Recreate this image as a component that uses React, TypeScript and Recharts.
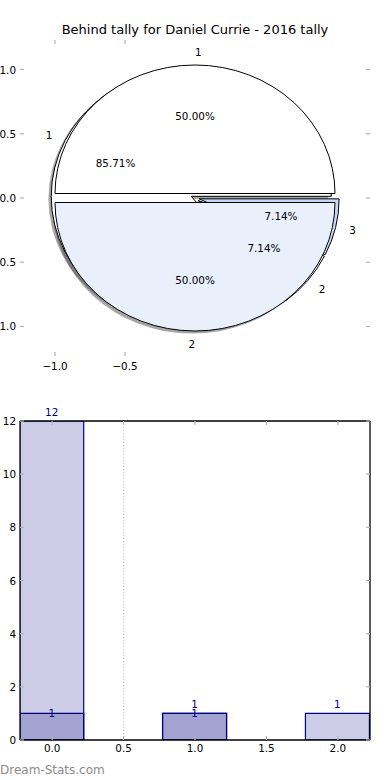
import React from 'react';
import {
  PieChart, Pie, Cell, ScatterChart, BarChart, Bar, XAxis, YAxis, LabelList, ReferenceLine,
} from 'recharts';

const FONT = '"DejaVu Sans", sans-serif';
const NAVY = '#000080';
const MARK = '#b4b4b4';
const RAD = Math.PI / 180;

// tally counts per category
const categories = [0, 1, 2];
const sliceNames = ['1', '2', '3'];
const behindCounts = [12, 1, 1];
const aheadCounts: (number | null)[] = [1, 1, null];

// axis ticks
const pieXTicks = [-1, -0.5];
const pieYTicks = [-1, -0.5, 0, 0.5, 1];
const barXTicks = [0, 0.5, 1, 1.5, 2];
const barYTicks = [0, 2, 4, 6, 8, 10, 12];

// pie styling
const outerColors = ['#ffffff', '#e9effb'];
const innerColors = ['#ffffff', '#ffffff', '#c6d9f6'];
const outerExplode = [0.035, 0.035];
const innerExplode = [0.03, 0.03, 0.03];
const SQUASH = 128.5 / 140; // axes are not equal aspect, so the pie is an ellipse
const SHADOW_DX = -2.8;
const SHADOW_DY = 2.6;

const outerData = aheadCounts
  .map((v, i) => ({ name: sliceNames[i], value: v }))
  .filter((d) => d.value != null);
const innerData = behindCounts.map((v, i) => ({ name: sliceNames[i], value: v }));
const barRows = categories.map((x, i) => ({ x, behind: behindCounts[i], ahead: aheadCounts[i] }));

function wedgePath(cx: number, cy: number, r: number, a0: number, a1: number) {
  const rx = r;
  const ry = r * SQUASH;
  const x0 = cx + rx * Math.cos(a0 * RAD);
  const y0 = cy - ry * Math.sin(a0 * RAD);
  const x1 = cx + rx * Math.cos(a1 * RAD);
  const y1 = cy - ry * Math.sin(a1 * RAD);
  const large = Math.abs(a1 - a0) > 180 ? 1 : 0;
  return `M${cx},${cy} L${x0},${y0} A${rx},${ry} 0 ${large} 0 ${x1},${y1} Z`;
}

const wedge = (explode: number[], shadow: boolean) => (props: any) => {
  const i = sliceNames.indexOf(String(props.name ?? props.payload?.name));
  const e = explode[i] ?? 0;
  const mid = (props.startAngle + props.endAngle) / 2;
  let cx = props.cx + e * props.outerRadius * Math.cos(mid * RAD);
  let cy = props.cy - e * props.outerRadius * SQUASH * Math.sin(mid * RAD);
  if (shadow) {
    cx += SHADOW_DX;
    cy += SHADOW_DY;
  }
  const d = wedgePath(cx, cy, props.outerRadius, props.startAngle, props.endAngle);
  if (shadow) return <path d={d} fill="#4d4d4d" fillOpacity={0.5} stroke="none" />;
  return <path d={d} fill={props.fill} stroke="#000" strokeWidth={1} />;
};

const noWedge = () => <g />;

const pieLabel = (explode: number[]) => (props: any) => {
  const i = sliceNames.indexOf(String(props.name));
  const e = explode[i] ?? 0;
  const c = Math.cos(props.midAngle * RAD);
  const s = Math.sin(props.midAngle * RAD);
  const rx = props.outerRadius;
  const ry = rx * SQUASH;
  const ox = props.cx + e * rx * c;
  const oy = props.cy - e * ry * s;
  const txt = { fontFamily: FONT, fontSize: 10.4, fill: '#000', dominantBaseline: 'central' as const };
  return (
    <g>
      <text x={ox + 1.1 * rx * c} y={oy - 1.1 * ry * s} textAnchor={c > 0 ? 'start' : 'end'} {...txt}>
        {props.name}
      </text>
      <text x={ox + 0.6 * rx * c} y={oy - 0.6 * ry * s} textAnchor="middle" {...txt}>
        {(props.percent * 100).toFixed(2)}%
      </text>
    </g>
  );
};

const fmt = (v: number, digits: number) => {
  const s = Math.abs(v).toFixed(digits);
  return v < 0 ? '\u2212' + s : s;
};

// tick factories: inside tick marks, optional labels
const leftTick = (digits: number | null, gap: number) => (p: any) => (
  <g>
    <line x1={p.x} x2={p.x + 4} y1={p.y} y2={p.y} stroke={MARK} strokeWidth={1.2} />
    {digits != null && (
      <text x={p.x - gap} y={p.y} textAnchor="end" dominantBaseline="central" fontFamily={FONT} fontSize={10.4} fill="#000">
        {fmt(p.payload.value, digits)}
      </text>
    )}
  </g>
);
const rightTick = (p: any) => (
  <line x1={p.x - 4} x2={p.x} y1={p.y} y2={p.y} stroke={MARK} strokeWidth={1.2} />
);
const bottomTick = (digits: number | null, gap: number) => (p: any) => (
  <g>
    <line x1={p.x} x2={p.x} y1={p.y - 4} y2={p.y} stroke={MARK} strokeWidth={1.2} />
    {digits != null && (
      <text x={p.x} y={p.y + gap} textAnchor="middle" dominantBaseline="central" fontFamily={FONT} fontSize={10.4} fill="#000">
        {fmt(p.payload.value, digits)}
      </text>
    )}
  </g>
);
const topTick = (p: any) => (
  <line x1={p.x} x2={p.x} y1={p.y} y2={p.y + 4} stroke={MARK} strokeWidth={1.2} />
);

const barLabel = (lift: number) => (p: any) => {
  if (p.value == null) return null;
  return (
    <text x={p.x + p.width / 2} y={p.y - lift} textAnchor="middle" dominantBaseline="central"
      fontFamily={FONT} fontSize={10.4} fill={NAVY}>
      {p.value}
    </text>
  );
};

const axisCommon = { tickSize: 0, tickMargin: 0, interval: 0 as const, allowDataOverflow: true };

export default function App() {
  return (
    <div style={{ position: 'relative', width: 390, height: 780, background: '#fff', overflow: 'hidden' }}>
      <style>{'body{margin:0}'}</style>
      <div style={{ position: 'absolute', top: 21, left: 0, width: 390, textAlign: 'center', fontFamily: FONT, fontSize: 13, lineHeight: '18px' }}>
        Behind tally for Daniel Currie - 2016 tally
      </div>

      {/* pie axes */}
      <div style={{ position: 'absolute', top: 0, left: 0 }}>
        <ScatterChart width={390} height={380} margin={{ top: 39, right: 19, bottom: 23, left: 19 }}>
          <XAxis xAxisId="b" type="number" dataKey="x" domain={[-1.25, 1.25]} ticks={pieXTicks} orientation="bottom"
            height={1} axisLine={false} tickLine={false} tick={bottomTick(1, 10)} {...axisCommon} />
          <XAxis xAxisId="t" type="number" dataKey="x" domain={[-1.25, 1.25]} ticks={pieXTicks} orientation="top"
            height={1} axisLine={false} tickLine={false} tick={topTick} {...axisCommon} />
          <YAxis yAxisId="l" type="number" dataKey="y" domain={[-1.23, 1.23]} ticks={pieYTicks} orientation="left"
            width={1} axisLine={false} tickLine={false} tick={leftTick(1, 4)} {...axisCommon} />
          <YAxis yAxisId="r" type="number" dataKey="y" domain={[-1.23, 1.23]} ticks={pieYTicks} orientation="right"
            width={1} axisLine={false} tickLine={false} tick={rightTick} {...axisCommon} />
        </ScatterChart>
      </div>

      {/* pies */}
      <div style={{ position: 'absolute', top: 0, left: 0 }}>
        <PieChart width={390} height={380} margin={{ top: 0, right: 0, bottom: 0, left: 0 }}>
          <Pie data={innerData} dataKey="value" nameKey="name" cx={195} cy={198} outerRadius={140} startAngle={0} endAngle={360}
            shape={wedge(innerExplode, true)} inactiveShape={wedge(innerExplode, true)} isAnimationActive={false} />
          <Pie data={outerData} dataKey="value" nameKey="name" cx={195} cy={198} outerRadius={140} startAngle={0} endAngle={360}
            shape={wedge(outerExplode, true)} inactiveShape={wedge(outerExplode, true)} isAnimationActive={false} />
          <Pie data={innerData} dataKey="value" nameKey="name" cx={195} cy={198} outerRadius={140} startAngle={0} endAngle={360}
            shape={wedge(innerExplode, false)} inactiveShape={wedge(innerExplode, false)} isAnimationActive={false}>
            {innerData.map((d, i) => <Cell key={d.name} fill={innerColors[i]} />)}
          </Pie>
          <Pie data={outerData} dataKey="value" nameKey="name" cx={195} cy={198} outerRadius={140} startAngle={0} endAngle={360}
            shape={wedge(outerExplode, false)} inactiveShape={wedge(outerExplode, false)} isAnimationActive={false}>
            {outerData.map((d, i) => <Cell key={d.name} fill={outerColors[i]} />)}
          </Pie>
          <Pie data={innerData} dataKey="value" nameKey="name" cx={195} cy={198} outerRadius={140} startAngle={0} endAngle={360}
            shape={noWedge} inactiveShape={noWedge} label={pieLabel(innerExplode)} labelLine={false} isAnimationActive={false} />
          <Pie data={outerData} dataKey="value" nameKey="name" cx={195} cy={198} outerRadius={140} startAngle={0} endAngle={360}
            shape={noWedge} inactiveShape={noWedge} label={pieLabel(outerExplode)} labelLine={false} isAnimationActive={false} />
        </PieChart>
      </div>

      {/* bar chart */}
      <div style={{ position: 'absolute', top: 380, left: 0 }}>
        <BarChart width={390} height={400} data={barRows} margin={{ top: 40, right: 19, bottom: 39, left: 19 }}
          barSize={64} barGap={-64}>
          <XAxis type="number" dataKey="x" domain={[-0.225, 2.225]} ticks={barXTicks} orientation="bottom" height={1}
            axisLine={{ stroke: '#000', strokeWidth: 1.3 }} tickLine={false} tick={bottomTick(1, 8)} {...axisCommon} />
          <XAxis xAxisId="top" type="number" dataKey="x" domain={[-0.225, 2.225]} ticks={barXTicks} orientation="top" height={1}
            axisLine={{ stroke: '#000', strokeWidth: 1.3 }} tickLine={false} tick={topTick} {...axisCommon} />
          <YAxis type="number" domain={[0, 12]} ticks={barYTicks} orientation="left" width={1}
            axisLine={{ stroke: '#000', strokeWidth: 1.3 }} tickLine={false} tick={leftTick(0, 4)} {...axisCommon} />
          <YAxis yAxisId="right" type="number" domain={[0, 12]} ticks={barYTicks} orientation="right" width={1}
            axisLine={{ stroke: '#000', strokeWidth: 1.3 }} tickLine={false} tick={rightTick} {...axisCommon} />
          <ReferenceLine x={0.5} stroke="#c0c0c0" strokeDasharray="1 2" />
          <Bar dataKey="behind" fill={NAVY} fillOpacity={0.2} stroke={NAVY} strokeWidth={1.2} isAnimationActive={false}>
            <LabelList dataKey="behind" content={barLabel(9)} />
          </Bar>
          <Bar dataKey="ahead" fill={NAVY} fillOpacity={0.2} stroke={NAVY} strokeWidth={1.2} isAnimationActive={false}>
            <LabelList dataKey="ahead" content={barLabel(0)} />
          </Bar>
        </BarChart>
      </div>

      <div style={{ position: 'absolute', left: 0, top: 762, fontFamily: FONT, fontSize: 12, lineHeight: '16px', color: '#8c8c8c' }}>
        Dream-Stats.com
      </div>
    </div>
  );
}
